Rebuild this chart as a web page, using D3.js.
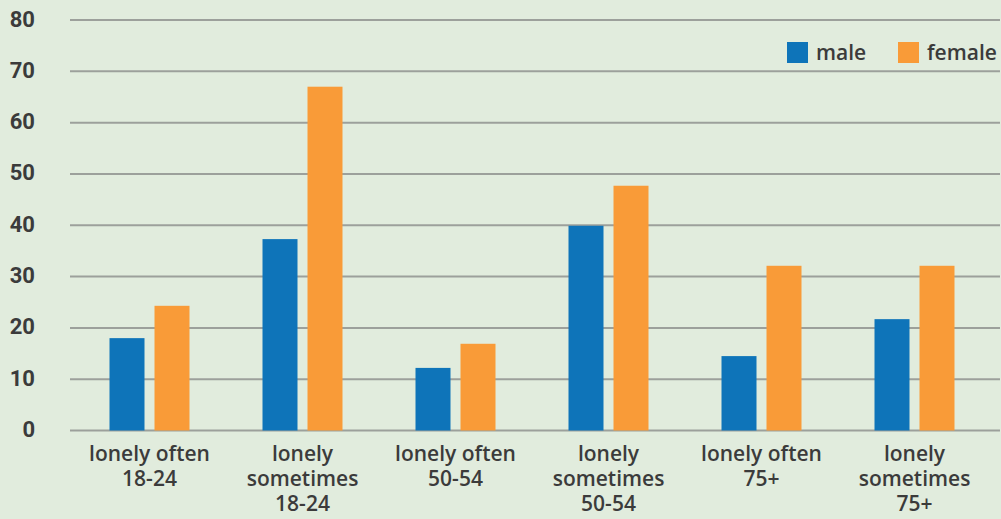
<!DOCTYPE html>
<html>
<head>
<meta charset="utf-8">
<script src="https://cdn.jsdelivr.net/npm/d3@7"></script>
<style>
  html, body { margin: 0; padding: 0; background: #e1ecdd; }
  svg { display: block; }
</style>
</head>
<body>
<svg id="chart" width="1001" height="519"></svg>
<script>
const categories = [
  ["lonely often", "18-24"],
  ["lonely", "sometimes", "18-24"],
  ["lonely often", "50-54"],
  ["lonely", "sometimes", "50-54"],
  ["lonely often", "75+"],
  ["lonely", "sometimes", "75+"]
];
const seriesNames = ["male", "female"];
const maleValues = [18.0, 37.3, 12.2, 39.9, 14.5, 21.7];
const femaleValues = [24.3, 67.0, 16.9, 47.7, 32.1, 32.1];
const yTicks = [0, 10, 20, 30, 40, 50, 60, 70, 80];
const colors = ["#0e74b9", "#f99b38"];

const svg = d3.select("#chart");
const W = 1001, H = 519;
const gridLeft = 70, gridRight = 1000;

const x = d3.scaleBand()
  .domain(d3.range(categories.length))
  .range([73, 991])
  .paddingInner(0).paddingOuter(0);

const y = d3.scaleLinear().domain([0, 80]).range([430.5, 20]);

const xSub = d3.scaleBand().domain(seriesNames).range([-40, 40]).paddingInner(10 / 45).paddingOuter(0);

svg.append("rect").attr("width", W).attr("height", H).attr("fill", "#e1ecdd");

svg.append("g").selectAll("line").data(yTicks).join("line")
  .attr("x1", gridLeft).attr("x2", gridRight)
  .attr("y1", d => y(d)).attr("y2", d => y(d))
  .attr("stroke", "#9ca09b").attr("stroke-width", 2);

svg.append("g").selectAll("text").data(yTicks).join("text")
  .attr("x", 35).attr("y", d => y(d) - 1)
  .attr("text-anchor", "end").attr("dominant-baseline", "central")
  .attr("font-family", "Roboto, sans-serif").attr("font-weight", 700)
  .attr("font-size", 22).attr("fill", "#3b3b3b")
  .text(d => d);

const data = categories.map((c, i) => ({ i, values: [maleValues[i], femaleValues[i]] }));
const groups = svg.append("g").selectAll("g").data(data).join("g")
  .attr("transform", d => `translate(${x(d.i) + x.bandwidth() / 2},0)`);
groups.selectAll("rect").data(d => d.values.map((v, k) => ({ v, k })))
  .join("rect")
  .attr("x", d => xSub(seriesNames[d.k]))
  .attr("width", xSub.bandwidth())
  .attr("y", d => y(d.v))
  .attr("height", d => y(0) - y(d.v))
  .attr("fill", d => colors[d.k]);

const labelFont = "'Open Sans', sans-serif";
const labels = svg.append("g").selectAll("text").data(categories).join("text")
  .attr("text-anchor", "middle")
  .attr("font-family", labelFont).attr("font-weight", 600)
  .attr("font-size", 21).attr("fill", "#3b3b3b")
  .attr("transform", (d, i) => `translate(${x(i) + x.bandwidth() / 2},461)`);
labels.selectAll("tspan").data(d => d).join("tspan")
  .attr("x", 0).attr("dy", (d, j) => j === 0 ? 0 : 25)
  .text(d => d);

const legendX = [787, 898];
const legend = svg.append("g").selectAll("g").data(seriesNames).join("g")
  .attr("transform", (d, i) => `translate(${legendX[i]},42)`);
legend.append("rect").attr("width", 21).attr("height", 21).attr("fill", (d, i) => colors[i]);
legend.append("text").attr("x", 29).attr("y", 18)
  .attr("font-family", labelFont).attr("font-weight", 600)
  .attr("font-size", 21).attr("fill", "#3b3b3b")
  .text(d => d);
</script>
</body>
</html>
